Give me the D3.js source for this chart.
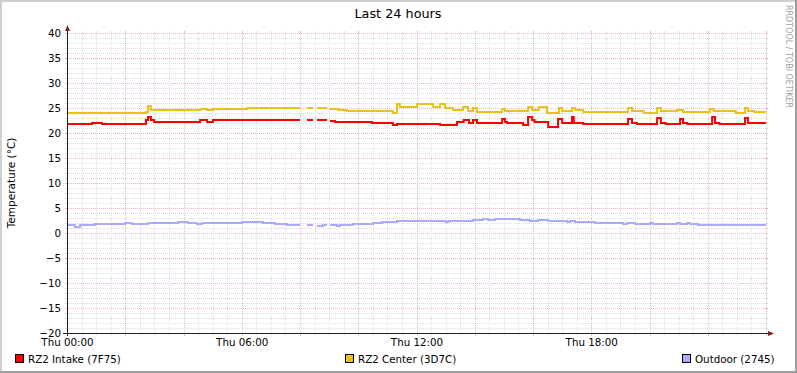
<!DOCTYPE html>
<html>
<head>
<meta charset="utf-8">
<script src="https://cdn.jsdelivr.net/npm/d3@7"></script>
<style>
  body { margin: 0; background: #fff; }
  svg text { font-family: "DejaVu Sans", sans-serif; fill: #000; }
</style>
</head>
<body>
<svg id="chart" width="797" height="373"></svg>
<script>
// [hour since Thu 00:00, temperature], null = no data
const intake = [
  [0, 21.8], [0.86, 22.0], [1.2, 21.8], [2.71, 22.6], [2.78, 23.3], [2.88, 22.7], [2.99, 22.3],
  [4.57, 22.5], [4.81, 22.3], [5.01, 22.6], [6.18, 22.7],
  [8.0, null], [8.24, 22.7], [8.35, 22.5], [8.45, null], [8.58, 22.6], [8.93, null],
  [9.03, 22.4], [9.2, 22.3], [10.47, 22.1], [11.19, 21.6], [11.33, 21.8], [12.81, 21.6],
  [13.39, 22.2], [13.62, 22.7], [13.8, 21.9], [13.94, 22.7], [14.08, 21.9], [14.94, 22.9],
  [15.04, 22.2], [15.11, 21.9], [15.66, 21.6], [15.83, 23.3], [15.97, 22.5], [16.05, 22.2],
  [16.52, 21.3], [16.86, 22.9], [17.0, 21.9], [17.27, 22.1], [17.34, 23.3], [17.4, 21.9],
  [17.72, 21.8], [18.2, 21.7], [19.26, 22.9], [19.4, 22.1], [19.57, 21.8], [20.26, 23.0],
  [20.39, 22.0], [20.55, 21.8], [21.05, 22.9], [21.15, 22.0], [21.3, 21.8], [22.15, 23.3],
  [22.25, 22.1], [22.4, 21.8], [23.28, 23.0], [23.38, 21.9], [24, null]
];
const center = [
  [0, 24.1], [0.45, 23.9], [0.62, 24.1], [1.2, 24.0], [1.5, 23.9], [1.9, 24.1], [2.2, 23.9],
  [2.6, 24.0], [2.71, 24.3], [2.78, 25.5], [2.88, 24.7], [4.57, 24.9], [4.81, 24.7], [5.01, 24.8],
  [6.18, 25.0], [8.0, null], [8.24, 25.0], [8.45, null], [8.58, 25.0], [8.93, null],
  [9.03, 24.9], [9.3, 24.7], [9.6, 24.5], [11.19, 24.1], [11.33, 25.7], [11.43, 25.2],
  [12.02, 25.8], [12.57, 25.3], [12.81, 25.7], [12.98, 25.1], [13.25, 24.6], [13.6, 25.3],
  [13.77, 24.4], [13.94, 25.1], [14.08, 24.3], [14.94, 24.9], [15.04, 24.5], [15.83, 25.3],
  [15.97, 24.7], [16.2, 25.2], [16.48, 23.9], [16.89, 25.0], [17.0, 24.5], [17.34, 25.1],
  [17.45, 24.6], [17.72, 24.3], [19.26, 25.0], [19.4, 24.4], [19.8, 24.0], [20.26, 25.0],
  [20.39, 24.4], [20.95, 24.6], [21.15, 24.3], [22.07, 24.8], [22.2, 24.4], [22.96, 23.9],
  [23.28, 25.1], [23.38, 24.4], [23.6, 24.2], [24, null]
];
const outdoor = [
  [0, 1.5], [0.27, 1.3], [0.45, 1.5], [0.62, 1.7], [0.96, 1.9], [1.06, 1.75], [1.82, 1.85],
  [1.99, 2.05], [2.23, 1.8], [2.78, 2.05], [3.81, 2.2], [4.15, 2.05], [4.46, 1.8], [4.64, 2.05],
  [6.01, 2.2], [6.73, 2.05], [7.14, 1.8], [7.55, 1.6], [8.0, null], [8.24, 1.6], [8.45, null],
  [8.58, 1.45], [8.79, 1.6], [8.93, null], [9.03, 1.6], [9.27, 1.45], [9.37, 1.6], [9.82, 1.8],
  [10.51, 2.0], [10.82, 2.25], [11.33, 2.35], [13.0, 2.2], [13.1, 2.35], [13.73, 2.5],
  [13.94, 2.7], [14.28, 2.85], [14.46, 2.7], [14.7, 2.85], [14.8, 2.8], [15.55, 2.6],
  [15.9, 2.5], [16.17, 2.6], [16.52, 2.4], [17.17, 2.25], [17.27, 2.45], [17.44, 2.2],
  [18.13, 2.05], [19.09, 1.85], [19.23, 2.05], [19.5, 1.8], [20.02, 2.0], [20.12, 1.85],
  [20.94, 2.0], [21.05, 1.85], [21.29, 2.0], [21.39, 1.85], [21.67, 1.65], [24, null]
];

const seriesNames = ['RZ2 Intake (7F75)', 'RZ2 Center (3D7C)', 'Outdoor (2745)'];
const seriesColors = ['#ff0000', '#eac11c', '#aaaaff'];
const xTickValues = [0, 6, 12, 18];
const xTickLabels = ['Thu 00:00', 'Thu 06:00', 'Thu 12:00', 'Thu 18:00'];
const yTickValues = [-20, -15, -10, -5, 0, 5, 10, 15, 20, 25, 30, 35, 40];

const W = 797, H = 373;
const LEFT = 67, RIGHT = 766, TOP = 33, BOTTOM = 333;
const GRID = '#dedede', MGRID = '#efb8b8', AXIS = '#1f1f1f', ARROW = '#801f1f';

const svg = d3.select('#chart');

// frame
svg.append('rect').attr('width', W).attr('height', H).attr('fill', '#9e9e9e');
svg.append('rect').attr('width', W - 2).attr('height', H - 2).attr('fill', '#cfcfcf');
svg.append('rect').attr('x', 2).attr('y', 2).attr('width', W - 4).attr('height', H - 4).attr('fill', '#fff');

const x = d3.scaleLinear().domain([0, 24]).range([LEFT, RIGHT]);
const y = d3.scaleLinear().domain([-20, 40]).range([BOTTOM, TOP]);
const px = v => Math.round(v) + 0.5;

const grid = svg.append('g');

// horizontal grid, minor every 1, major every 5
d3.range(-20, 41, 1).forEach(v => {
    const major = v % 5 === 0;
    const c = major ? MGRID : GRID;
    const yy = px(y(v));
    grid.append('line').attr('x1', LEFT - 2).attr('x2', LEFT).attr('y1', yy).attr('y2', yy).attr('stroke', c);
    grid.append('line').attr('x1', RIGHT).attr('x2', RIGHT + 2).attr('y1', yy).attr('y2', yy).attr('stroke', c);
    grid.append('line').attr('x1', LEFT).attr('x2', RIGHT).attr('y1', yy).attr('y2', yy)
        .attr('stroke', c).attr('stroke-dasharray', '1,1');
});

// vertical grid, minor every 30 min, major every 2 h
d3.range(0, 24.01, 0.5).forEach(h => {
    const major = h % 2 === 0;
    const c = major ? MGRID : GRID;
    const xx = px(x(h));
    grid.append('line').attr('x1', xx).attr('x2', xx).attr('y1', TOP - 2).attr('y2', TOP).attr('stroke', c);
    grid.append('line').attr('x1', xx).attr('x2', xx).attr('y1', BOTTOM).attr('y2', BOTTOM + (major ? 3 : 2)).attr('stroke', c);
    grid.append('line').attr('x1', xx).attr('x2', xx).attr('y1', TOP).attr('y2', BOTTOM)
        .attr('stroke', c).attr('stroke-dasharray', '1,1');
});

// step lines
function stepPoints(data) {
    const pts = [];
    data.forEach((d, i) => {
        if (i === data.length - 1) return;
        if (d[1] == null) { pts.push([d[0], null]); return; }
        pts.push([d[0], d[1]]);
        pts.push([data[i + 1][0], d[1]]);
    });
    return pts;
}
const line = d3.line()
    .defined(d => d[1] != null)
    .x(d => x(d[0]))
    .y(d => Math.round(y(d[1])));

[intake, center, outdoor].forEach((s, i) => {
    svg.append('path')
        .attr('d', line(stepPoints(s)))
        .attr('fill', 'none')
        .attr('stroke', seriesColors[i])
        .attr('stroke-width', 2);
});

// axes
svg.append('line').attr('x1', LEFT - 4).attr('x2', RIGHT + 3).attr('y1', BOTTOM + 0.5).attr('y2', BOTTOM + 0.5).attr('stroke', AXIS);
svg.append('line').attr('x1', LEFT + 0.5).attr('x2', LEFT + 0.5).attr('y1', BOTTOM + 3).attr('y2', TOP - 3).attr('stroke', AXIS);
svg.append('path').attr('d', `M${RIGHT + 2},${BOTTOM - 2} L${RIGHT + 8},${BOTTOM + 0.5} L${RIGHT + 2},${BOTTOM + 3} Z`).attr('fill', ARROW);
svg.append('path').attr('d', `M${LEFT - 2},${TOP - 2} L${LEFT + 0.5},${TOP - 8} L${LEFT + 3},${TOP - 2} Z`).attr('fill', ARROW);

const yAxis = svg.append('g')
    .attr('transform', `translate(${LEFT},0)`)
    .call(d3.axisLeft(y).tickValues(yTickValues).tickSize(0).tickPadding(6));
yAxis.select('.domain').remove();
yAxis.selectAll('text').attr('font-size', '10.3px').attr('font-family', 'DejaVu Sans');

const xAxis = svg.append('g')
    .attr('transform', `translate(0,${BOTTOM})`)
    .call(d3.axisBottom(x).tickValues(xTickValues).tickSize(0).tickPadding(5.5)
        .tickFormat((d, i) => xTickLabels[i]));
xAxis.select('.domain').remove();
xAxis.selectAll('text').attr('font-size', '10.3px').attr('font-family', 'DejaVu Sans');

// title and labels
svg.append('text').attr('x', 398).attr('y', 18).attr('text-anchor', 'middle')
    .attr('font-size', '12.8px').text('Last 24 hours');
svg.append('text').attr('transform', 'translate(15,183) rotate(-90)').attr('text-anchor', 'middle')
    .attr('font-size', '10.5px').text('Temperature (°C)');
svg.append('text').attr('transform', 'translate(785.5,5) rotate(90)')
    .attr('font-size', '9px').attr('textLength', 103).attr('lengthAdjust', 'spacingAndGlyphs')
    .style('fill', '#a0a0a0').text('RRDTOOL / TOBI OETIKER');

// legend
const legendX = [15, 345, 682];
seriesNames.forEach((name, i) => {
    svg.append('rect').attr('x', legendX[i] + 0.5).attr('y', 354.5).attr('width', 8).attr('height', 8)
        .attr('fill', seriesColors[i]).attr('stroke', '#000');
    svg.append('text').attr('x', legendX[i] + 13).attr('y', 363)
        .attr('font-size', '10.3px').text(name);
});
</script>
</body>
</html>
